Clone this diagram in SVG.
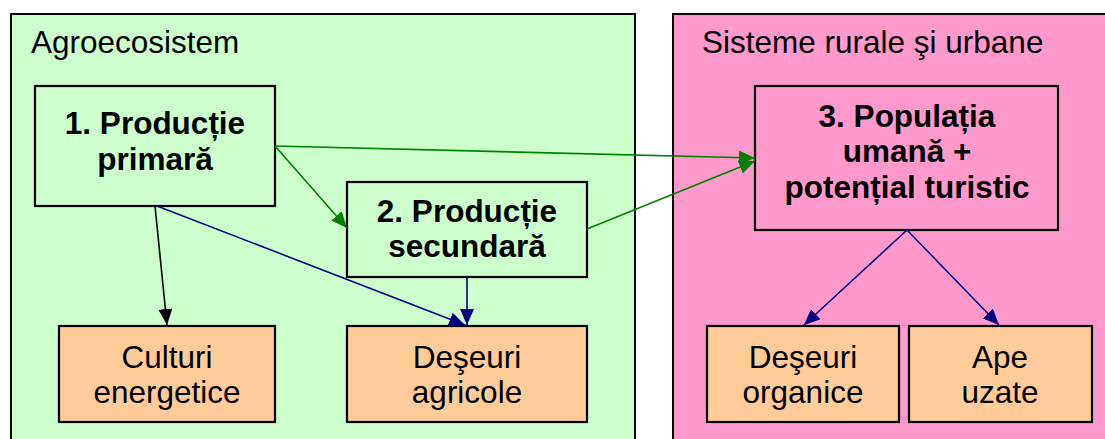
<svg xmlns="http://www.w3.org/2000/svg" width="1105" height="439" viewBox="0 0 1105 439">
<style>
.cont{stroke:#000;stroke-width:2}
.box{stroke:#000;stroke-width:2.2}
.g{fill:#CCFFCC}
.p{fill:#FF99CC}
.o{fill:#FFCC99}
text{font-family:"Liberation Sans",Arial,sans-serif;font-size:31.5px;fill:#000}
.b{font-weight:bold;text-anchor:middle}
.c{text-anchor:middle}
.ln{fill:none;stroke-width:1.6}
</style>
<defs>
<marker id="ak" markerUnits="userSpaceOnUse" markerWidth="16" markerHeight="14" refX="16" refY="7" orient="auto"><path d="M0,0 L16,7 L0,14 z" fill="#000"/></marker>
<marker id="ab" markerUnits="userSpaceOnUse" markerWidth="16" markerHeight="14" refX="16" refY="7" orient="auto"><path d="M0,0 L16,7 L0,14 z" fill="#000080"/></marker>
<marker id="ag" markerUnits="userSpaceOnUse" markerWidth="16" markerHeight="14" refX="16" refY="7" orient="auto"><path d="M0,0 L16,7 L0,14 z" fill="#008000"/></marker>
</defs>
<rect width="1105" height="439" fill="#fff"/>
<g id="agroecosistem">
<rect class="cont g" x="11" y="14" width="624" height="440"/>
<text x="31" y="53">Agroecosistem</text>
</g>
<g id="sisteme">
<rect class="cont p" x="673" y="14" width="450" height="440"/>
<text x="702" y="53">Sisteme rurale şi urbane</text>
</g>
<g id="n1">
<rect class="box g" x="35" y="86" width="240" height="120"/>
<text class="b" x="155" y="134">1. Producție</text>
<text class="b" x="155" y="170">primară</text>
</g>
<g id="n2">
<rect class="box g" x="347" y="182" width="240" height="95"/>
<text class="b" x="467" y="222">2. Producție</text>
<text class="b" x="467" y="257">secundară</text>
</g>
<g id="n3">
<rect class="box p" x="755" y="86" width="303" height="144"/>
<text class="b" x="907" y="127">3. Populația</text>
<text class="b" x="907" y="162">umană +</text>
<text class="b" x="907" y="198">potențial turistic</text>
</g>
<g id="culturi">
<rect class="box o" x="59" y="326" width="216" height="96"/>
<text class="c" x="167" y="368">Culturi</text>
<text class="c" x="167" y="403">energetice</text>
</g>
<g id="deseuri-agricole">
<rect class="box o" x="347" y="326" width="240" height="96"/>
<text class="c" x="467" y="368">Deşeuri</text>
<text class="c" x="467" y="403">agricole</text>
</g>
<g id="deseuri-organice">
<rect class="box o" x="707" y="326" width="192" height="96"/>
<text class="c" x="803" y="368">Deşeuri</text>
<text class="c" x="803" y="403">organice</text>
</g>
<g id="ape-uzate">
<rect class="box o" x="909" y="326" width="183" height="96"/>
<text class="c" x="1000" y="368">Ape</text>
<text class="c" x="1000" y="403">uzate</text>
</g>
<g id="connectors">
<line class="ln" stroke="#000" x1="155" y1="206" x2="167" y2="325" marker-end="url(#ak)"/>
<line class="ln" stroke="#000080" x1="157" y1="206" x2="465" y2="325" marker-end="url(#ab)"/>
<line class="ln" stroke="#000080" x1="467" y1="277" x2="467" y2="325" marker-end="url(#ab)"/>
<line class="ln" stroke="#008000" x1="275" y1="146" x2="347" y2="228" marker-end="url(#ag)"/>
<line class="ln" stroke="#008000" x1="275" y1="146" x2="755" y2="158" marker-end="url(#ag)"/>
<line class="ln" stroke="#008000" x1="587" y1="229" x2="755" y2="161" marker-end="url(#ag)"/>
<line class="ln" stroke="#000080" x1="907" y1="230" x2="804" y2="325" marker-end="url(#ab)"/>
<line class="ln" stroke="#000080" x1="907" y1="230" x2="999" y2="325" marker-end="url(#ab)"/>
</g>
</svg>
